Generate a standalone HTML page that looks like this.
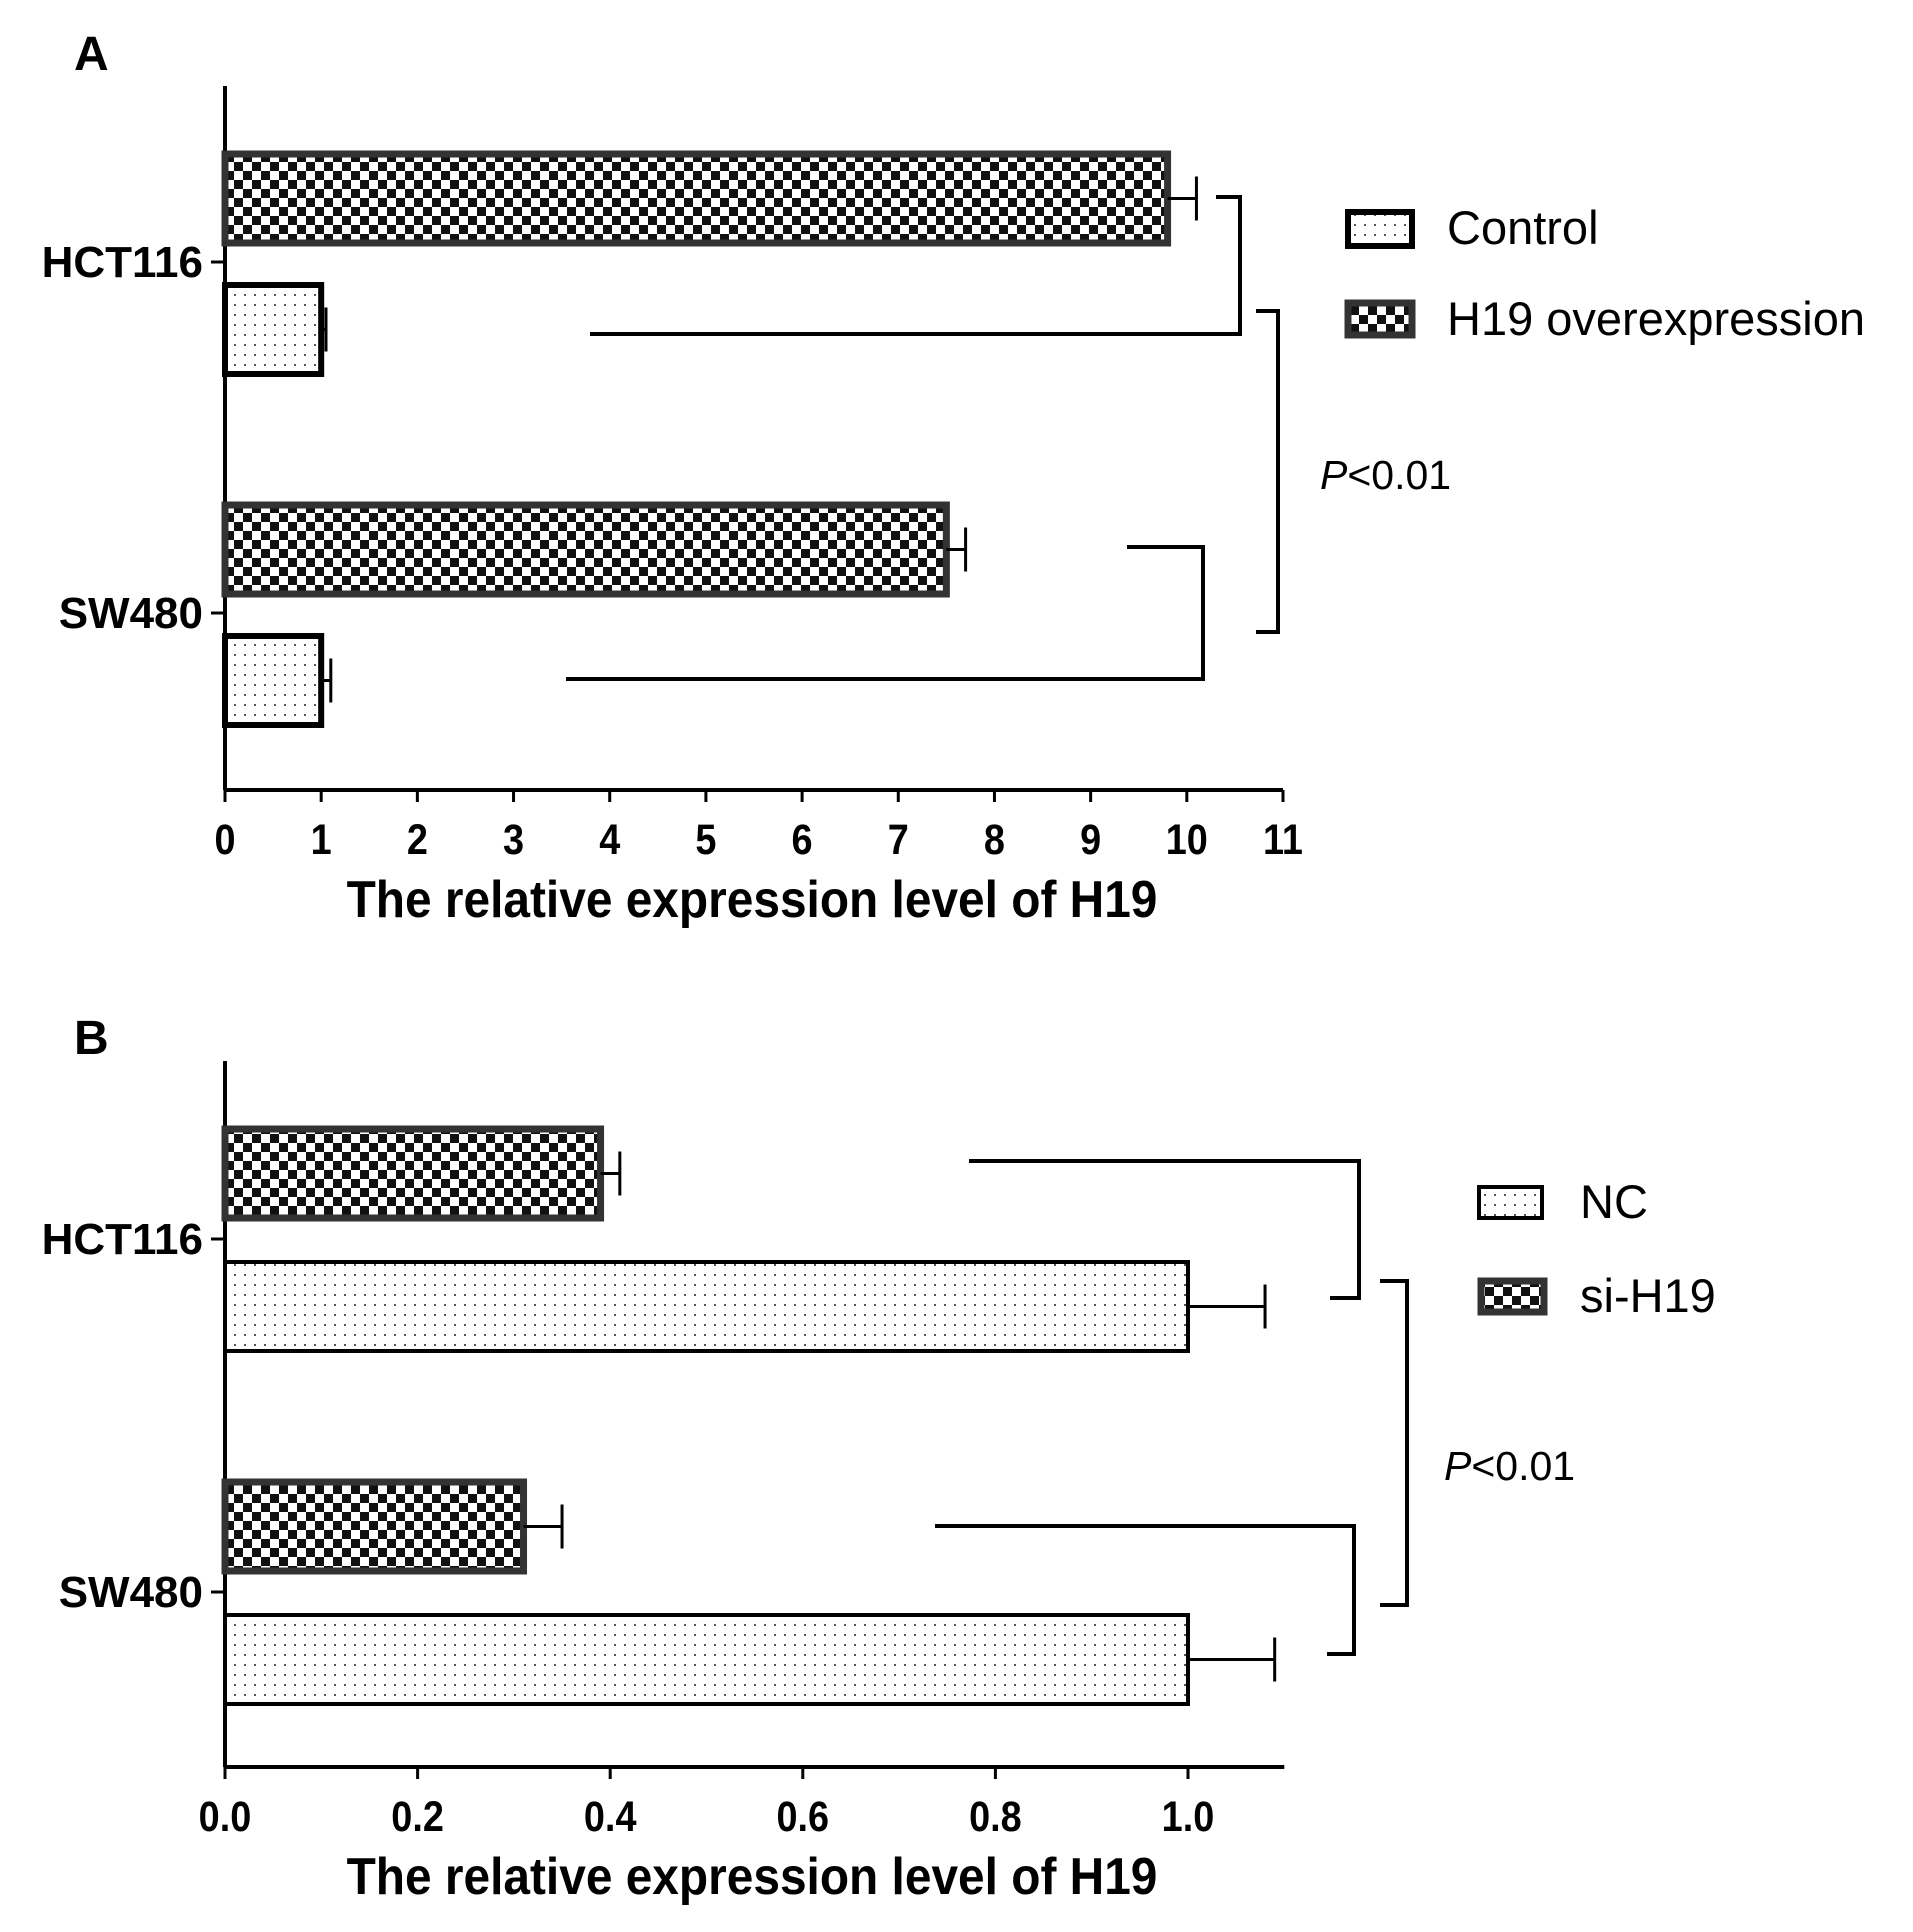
<!DOCTYPE html>
<html><head><meta charset="utf-8">
<style>
html,body{margin:0;padding:0;background:#fff;}
svg{display:block;font-family:"Liberation Sans",Arial,sans-serif;}
</style></head>
<body>
<svg id="fig" width="1913" height="1932" viewBox="0 0 1913 1932" xmlns="http://www.w3.org/2000/svg">
<defs>
<pattern id="checker" width="18" height="18" patternUnits="userSpaceOnUse">
<rect width="18" height="18" fill="#fff"/>
<rect width="9" height="9" fill="#111"/>
<rect x="9" y="9" width="9" height="9" fill="#111"/>
</pattern>
<pattern id="dots" width="10" height="10" patternUnits="userSpaceOnUse">
<rect width="10" height="10" fill="#fff"/>
<rect x="4" y="4" width="2" height="2" fill="#555"/>
</pattern>
</defs>
<text x="74" y="70" font-size="48" font-weight="bold">A</text>
<text x="74" y="1054" font-size="48" font-weight="bold">B</text>
<g id="gA"></g>
<g id="gB"></g>
</svg>
<script>
// Panel A data
const catsA = ["HCT116","SW480"];
const ctrlA = [1.0, 1.0];
const ctrlErrA = [0.05, 0.1];
const overA = [9.8, 7.5];
const overErrA = [0.3, 0.2];
const ticksA = [0,1,2,3,4,5,6,7,8,9,10,11];
// Panel B data
const catsB = ["HCT116","SW480"];
const ncB = [1.0, 1.0];
const ncErrB = [0.08, 0.09];
const siB = [0.39, 0.31];
const siErrB = [0.02, 0.04];
const ticksB = ["0.0","0.2","0.4","0.6","0.8","1.0"];

const NS="http://www.w3.org/2000/svg";
function mk(parent,tag,attrs,name,text){
  const e=document.createElementNS(NS,tag);
  for(const k in attrs) e.setAttribute(k,attrs[k]);
  
  
  if(text!==undefined) e.textContent=text;
  parent.appendChild(e);return e;
}
function line(p,x1,y1,x2,y2,name,w){return mk(p,'line',{x1,y1,x2,y2,stroke:'#000','stroke-width':w||4},name);}
function poly(p,pts,name){return mk(p,'polyline',{points:pts.map(a=>a.join(',')).join(' '),fill:'none',stroke:'#000','stroke-width':4},name);}

function panel(g,o){
  const x=v=>o.x0+(v/o.max)*(o.x1-o.x0);
  line(g,o.x0,o.top,o.x0,o.bot,'y-axis',4);
  line(g,o.x0,o.bot,x(o.axisMax),o.bot,'x-axis',4);
  o.ticks.forEach(t=>{
    const v=parseFloat(t);
    line(g,x(v),o.bot,x(v),o.bot+12,'x-tick',3);
    mk(g,'text',{x:x(v),y:o.bot+64,'font-size':43,'font-weight':'bold','text-anchor':'middle',transform:`translate(${x(v)},0) scale(0.88,1) translate(${-x(v)},0)`},'x-tick-label',String(t));
  });
  mk(g,'text',{x:o.titleX,y:o.bot+127,'font-size':52,'font-weight':'bold','text-anchor':'middle',transform:`translate(${o.titleX},0) scale(0.92,1) translate(${-o.titleX},0)`},'x-axis-title','The relative expression level of H19');
  o.cats.forEach((c,i)=>{
    line(g,o.x0-14,o.catY[i],o.x0,o.catY[i],'y-tick',3);
    mk(g,'text',{x:o.x0-22,y:o.catY[i]+15,'font-size':44,'font-weight':'bold','text-anchor':'end'},'y-tick-label',c);
    o.series.forEach(s=>{
      const y0=o.catY[i]+s.off, h=o.barH;
      mk(g,'rect',{x:o.x0,y:y0,width:x(s.vals[i])-o.x0,height:h,fill:s.fill,stroke:s.stroke,'stroke-width':s.sw},'bar-'+s.key+'-'+c.toLowerCase());
      const ym=y0+h/2, xe=x(s.vals[i]+s.err[i]);
      line(g,x(s.vals[i]),ym,xe,ym,'error-bar',3);
      line(g,xe,ym-22,xe,ym+22,'error-cap',3);
    });
  });
}

const gA=document.getElementById('gA');
panel(gA,{x0:225,x1:1283,max:11,axisMax:11,top:86,bot:790,ticks:ticksA,titleX:752,cats:catsA,catY:[262,613],barH:89,
  series:[{key:'h19-overexpression',vals:overA,err:overErrA,off:-108,fill:'url(#checker)',stroke:'#333',sw:7},
          {key:'control',vals:ctrlA,err:ctrlErrA,off:23,fill:'url(#dots)',stroke:'#000',sw:6}]});
poly(gA,[[1216,197],[1240,197],[1240,334],[590,334]],'significance-bracket-hct116');
poly(gA,[[1127,547],[1203,547],[1203,679],[566,679]],'significance-bracket-sw480');
poly(gA,[[1256,311],[1278,311],[1278,632],[1256,632]],'significance-bracket-overall');
mk(gA,'text',{x:1320,y:489,'font-size':41},'p-value-label').innerHTML='<tspan font-style="italic">P</tspan>&lt;0.01';
mk(gA,'rect',{x:1348,y:212,width:64,height:34,fill:'url(#dots)',stroke:'#000','stroke-width':6},'legend-swatch-control');
mk(gA,'text',{x:1447,y:244,'font-size':47},'legend-label-control','Control');
mk(gA,'rect',{x:1348,y:303,width:64,height:32,fill:'url(#checker)',stroke:'#333','stroke-width':7},'legend-swatch-h19-overexpression');
mk(gA,'text',{x:1447,y:335,'font-size':47},'legend-label-h19-overexpression','H19 overexpression');

const gB=document.getElementById('gB');
panel(gB,{x0:225,x1:1188,max:1.0,axisMax:1.1,top:1061,bot:1767,ticks:ticksB,titleX:752,cats:catsB,catY:[1239,1592],barH:89,
  series:[{key:'si-h19',vals:siB,err:siErrB,off:-110,fill:'url(#checker)',stroke:'#333',sw:7},
          {key:'nc',vals:ncB,err:ncErrB,off:23,fill:'url(#dots)',stroke:'#000',sw:4}]});
poly(gB,[[969,1161],[1359,1161],[1359,1298],[1330,1298]],'significance-bracket-hct116');
poly(gB,[[935,1526],[1354,1526],[1354,1654],[1327,1654]],'significance-bracket-sw480');
poly(gB,[[1380,1281],[1407,1281],[1407,1605],[1380,1605]],'significance-bracket-overall');
mk(gB,'text',{x:1444,y:1480,'font-size':41},'p-value-label').innerHTML='<tspan font-style="italic">P</tspan>&lt;0.01';
mk(gB,'rect',{x:1479,y:1187,width:63,height:31,fill:'url(#dots)',stroke:'#000','stroke-width':4},'legend-swatch-nc');
mk(gB,'text',{x:1580,y:1218,'font-size':47},'legend-label-nc','NC');
mk(gB,'rect',{x:1481,y:1281,width:63,height:31,fill:'url(#checker)',stroke:'#333','stroke-width':7},'legend-swatch-si-h19');
mk(gB,'text',{x:1580,y:1312,'font-size':47},'legend-label-si-h19','si-H19');
</script>
</body></html>
